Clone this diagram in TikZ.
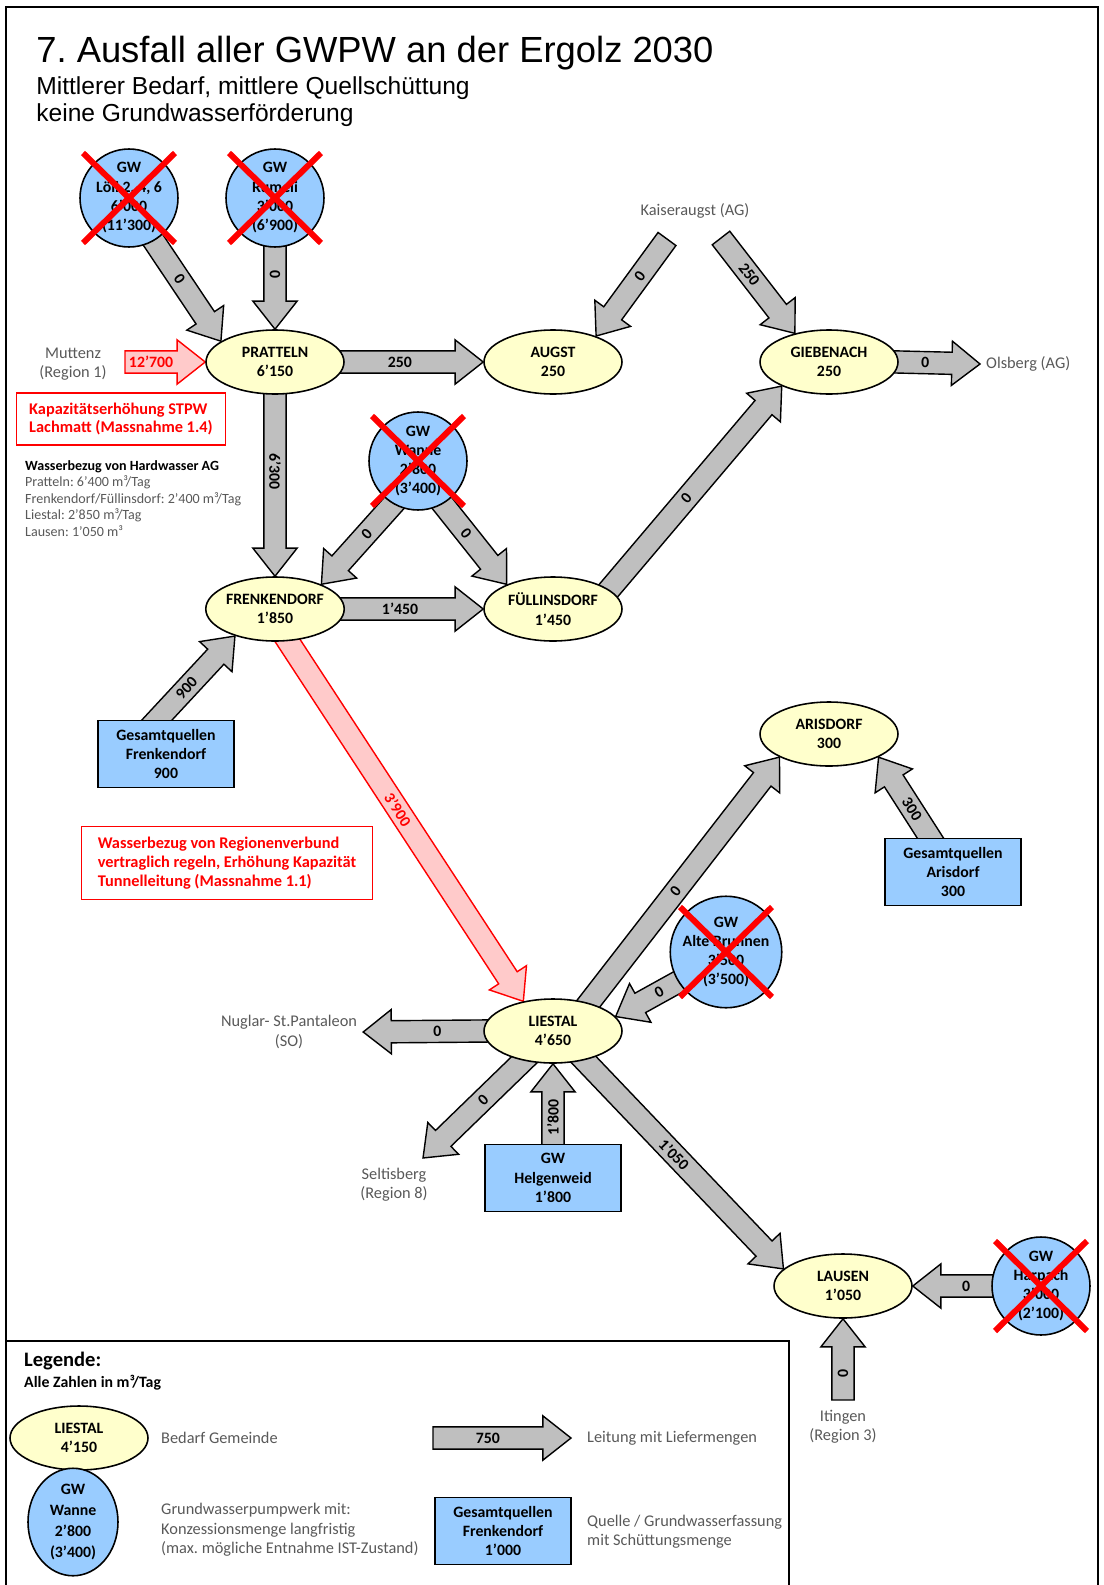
\documentclass[tikz,border=0pt]{standalone}
\usepackage{fontspec}
\setmainfont{Carlito}
\newfontfamily\titlefont{Liberation Sans}
\usetikzlibrary{shapes.geometric,calc,backgrounds}

\definecolor{gemeindefill}{HTML}{FFFFCC}
\definecolor{gwfill}{HTML}{99CCFF}
\definecolor{pipefill}{HTML}{BFBFBF}
\definecolor{redfill}{HTML}{FFCACA}
\definecolor{labelgray}{HTML}{595959}

% Masse der Leitungspfeile
\newcommand{\pipew}{6.3pt}
\newcommand{\pipehw}{12.6pt}
\newcommand{\pipehead}{16pt}

\tikzset{
  gemeinde/.style={ellipse, draw, line width=0.9pt, fill=gemeindefill,
    minimum width=2.76cm, minimum height=1.28cm, inner sep=0pt, align=center,
    font=\fontsize{9}{11}\selectfont\bfseries},
  pumpwerk/.style={circle, draw, line width=0.9pt, fill=gwfill,
    minimum size=1.96cm, inner sep=0pt, align=center,
    font=\fontsize{9}{11}\selectfont\bfseries},
  quelle/.style={rectangle, draw, line width=0.9pt, fill=gwfill,
    minimum width=2.72cm, minimum height=1.34cm, inner sep=0pt, align=center,
    font=\fontsize{9}{11}\selectfont\bfseries},
  nachbar/.style={align=center, text=labelgray, font=\fontsize{9.3}{11}\selectfont},
  massnahme/.style={draw=red, line width=1pt, text=red, align=left,
    font=\fontsize{9.3}{10.8}\selectfont\bfseries},
  pipe/.style={draw, line width=0.8pt, fill=pipefill, line join=miter},
  redpipe/.style={color=red, fill=redfill},
  pipelabel/.style={font=\fontsize{9}{11}\selectfont\bfseries, inner sep=0pt},
  xout/.style={red, line width=3.4pt},
  borderline/.style={line width=1.2pt},
  pipe back/.store in=\pipeback, pipe back=8pt,
}

% Blockpfeil von #2 nach #3 mit Menge #4
\newcommand{\pipe}[4][]{%
  \draw[pipe,#1] let \p1=#2, \p2=#3,
      \n1={atan2(\y2-\y1,\x2-\x1)}, \n2={veclen(\x2-\x1,\y2-\y1)},
      \n3={abs(\n1)>90.5 ? (\n1>0 ? \n1-180 : \n1+180) : \n1} in
    ([shift={(\p1)},rotate=\n1]-\pipeback,-\pipew)
    -- ([shift={(\p1)},rotate=\n1]\n2-\pipehead,-\pipew)
    -- ([shift={(\p1)},rotate=\n1]\n2-\pipehead,-\pipehw)
    -- ([shift={(\p1)},rotate=\n1]\n2,0pt)
    -- ([shift={(\p1)},rotate=\n1]\n2-\pipehead,\pipehw)
    -- ([shift={(\p1)},rotate=\n1]\n2-\pipehead,\pipew)
    -- ([shift={(\p1)},rotate=\n1]-\pipeback,\pipew) -- cycle
    ([shift={(\p1)},rotate=\n1]0.5*\n2-0.5*\pipehead,0pt) node[pipelabel,rotate=\n3] {#4};
}

\begin{document}
\frenchspacing
\begin{tikzpicture}[x=0.02cm, y=-0.02cm]
\useasboundingbox (0,0) rectangle (1103,1585);
% Rahmen
\draw[borderline] (6,1585) -- (6,7) -- (1098,7) -- (1098,1585);
\draw[borderline] (6,1341) -- (789,1341) -- (789,1585);
% Titel
\node[anchor=base west, inner sep=0pt, font=\titlefont\fontsize{20.7}{24}\selectfont] (title) at (36,63) {7. Ausfall aller GWPW an der Ergolz 2030};
\node[anchor=base west, inner sep=0pt, font=\titlefont\fontsize{14}{16}\selectfont] (sub1) at (36,94) {Mittlerer Bedarf, mittlere Quellschüttung};
\node[anchor=base west, inner sep=0pt, font=\titlefont\fontsize{14}{16}\selectfont] (sub2) at (36,122) {keine Grundwasserförderung};

% Grundwasserpumpwerke
\node[pumpwerk] (loeli) at (129,198) {GW\\Löli 2, 4, 6\\6’000\\(11’300)};
\node[pumpwerk] (rumeli) at (275,198) {GW\\Rumeli\\3’000\\(6’900)};
\node[pumpwerk] (wanne) at (418,461) {GW\\Wanne\\2’800\\(3’400)};
\node[pumpwerk] (alte) at (726,952) {GW\\Alte Brunnen\\3’500\\(3’500)};
\node[pumpwerk] (harpach) at (1041,1286) {GW\\Harpach\\3’000\\(2’100)};

% Gemeinden
\node[gemeinde] (pratteln) at (275,362) {PRATTELN\\6’150};
\node[gemeinde] (augst) at (553,362) {AUGST\\250};
\node[gemeinde] (giebenach) at (829,362) {GIEBENACH\\250};
\node[gemeinde] (frenkendorf) at (275,609) {FRENKENDORF\\1’850};
\node[gemeinde] (fuellinsdorf) at (553,609) {FÜLLINSDORF\\1’450};
\node[gemeinde] (arisdorf) at (829,734) {ARISDORF\\300};
\node[gemeinde] (liestal) at (553,1031) {LIESTAL\\4’650};
\node[gemeinde] (lausen) at (843,1286) {LAUSEN\\1’050};

% Quellen
\node[quelle] (gqfrenk) at (166,754) {Gesamtquellen\\Frenkendorf\\900};
\node[quelle] (gqaris) at (953,872) {Gesamtquellen\\Arisdorf\\300};
\node[quelle] (helgen) at (553,1178) {GW\\Helgenweid\\1’800};

% Nachbarregionen
\node[nachbar] (muttenz) at (73,364) {Muttenz\\(Region 1)};
\node[nachbar] (kaiseraugst) at (695,211) {Kaiseraugst (AG)};
\node[nachbar, anchor=west] (olsberg) at (980,364) {Olsberg (AG)};
\node[nachbar] (nuglar) at (289,1032) {Nuglar- St.Pantaleon\\(SO)};
\node[nachbar] (seltisberg) at (394,1185) {Seltisberg\\(Region 8)};
\node[nachbar] (itingen) at (843,1427) {Itingen\\(Region 3)};
\coordinate (muttenzout) at (125,362);
\coordinate (kaiser1) at (667,239);
\coordinate (kaiser2) at (721,238);
\coordinate (seltisin) at (423,1158);
\coordinate (itingenout) at (843,1400);

% Massnahmen
\node[massnahme, minimum width=4.18cm, minimum height=1.04cm] (lachmatt) at (121,419) {Kapazitätserhöhung STPW\\Lachmatt (Massnahme 1.4)};
\node[anchor=north west, align=left, text=labelgray, font=\fontsize{8}{9.4}\selectfont] (hardwasser) at (19,454) {\textcolor{black}{\bfseries Wasserbezug von Hardwasser AG}\\Pratteln: 6’400 m³/Tag\\Frenkendorf/Füllinsdorf: 2’400 m³/Tag\\Liestal: 2’850 m³/Tag\\Lausen: 1’050 m³};
\node[massnahme, minimum width=5.82cm, minimum height=1.46cm] (tunnel) at (227,863) {Wasserbezug von Regionenverbund\\vertraglich regeln, Erhöhung Kapazität\\Tunnelleitung (Massnahme 1.1)};

% Legende
\node[anchor=west, font=\fontsize{11.7}{14}\selectfont\bfseries] (legende) at (18,1361) {Legende:};
\node[anchor=west, font=\fontsize{9}{11}\selectfont\bfseries] (einheit) at (18,1383) {Alle Zahlen in m³/Tag};
\node[gemeinde] (leggemeinde) at (79,1438) {LIESTAL\\4’150};
\node[nachbar, anchor=west] (leggemeindetext) at (155,1438) {Bedarf Gemeinde};
\coordinate (legpipea) at (433,1438);
\coordinate (legpipeb) at (571,1438);
\node[nachbar, anchor=west] (legpipetext) at (581,1438) {Leitung mit Liefermengen};
\node[pumpwerk, ellipse, minimum width=1.8cm, minimum height=2cm, font=\fontsize{9}{12}\selectfont\bfseries] (legpumpwerk) at (73,1522) {GW\\Wanne\\2’800\\(3’400)};
\node[nachbar, anchor=west, align=left] (legpumpwerktext) at (155,1530) {Grundwasserpumpwerk mit:\\Konzessionsmenge langfristig\\(max. mögliche Entnahme IST-Zustand)};
\node[quelle] (legquelle) at (503,1531) {Gesamtquellen\\Frenkendorf\\1’000};
\node[nachbar, anchor=west, align=left] (legquelletext) at (581,1532) {Quelle / Grundwasserfassung\\mit Schüttungsmenge};

% Leitungen
\begin{pgfonlayer}{background}
\pipe{(loeli.-60)}{(pratteln.159)}{0}
\pipe{(rumeli.south)}{(pratteln.north)}{0}
\pipe[redpipe, pipe back=0pt]{(muttenzout)}{(pratteln.west)}{12’700}
\pipe{(pratteln.east)}{(augst.west)}{250}
\pipe[pipe back=0pt]{(kaiser1)}{(augst.31)}{0}
\pipe[pipe back=0pt]{(kaiser2)}{(giebenach.140)}{250}
\pipe{(giebenach.east)}{(olsberg.west)}{0}
\pipe{(pratteln.south)}{(frenkendorf.north)}{6’300}
\pipe{(wanne.-120)}{(frenkendorf.28)}{0}
\pipe{(wanne.-60)}{(fuellinsdorf.152)}{0}
\pipe{(frenkendorf.east)}{(fuellinsdorf.west)}{1’450}
\pipe{(fuellinsdorf.19)}{(giebenach.-153)}{0}
\pipe{([xshift=-5pt]gqfrenk.north)}{(frenkendorf.-146)}{900}
\pipe[redpipe]{(frenkendorf.-68)}{(liestal.135)}{3’900}
\pipe{(liestal.38)}{(arisdorf.-155)}{0}
\pipe{([xshift=-13pt]gqaris.north)}{(arisdorf.-25)}{300}
\pipe{(alte.-148)}{(liestal.13)}{0}
\pipe{(liestal.west)}{(nuglar.east)}{0}
\pipe{(liestal.-135)}{(seltisin)}{0}
\pipe{(helgen.north)}{(liestal.south)}{1’800}
\pipe{(liestal.-43)}{(lausen.164)}{1’050}
\pipe{(harpach.west)}{(lausen.east)}{0}
\pipe[pipe back=0pt]{(itingenout)}{(lausen.south)}{0}
\pipe[pipe back=0pt]{(legpipea)}{(legpipeb)}{750}
\end{pgfonlayer}

% ausgefallene Pumpwerke
\foreach \w in {loeli,rumeli,wanne,alte,harpach}
  \draw[xout] ($(\w)+(-46,-45)$) -- ($(\w)+(46,45)$) ($(\w)+(-46,45)$) -- ($(\w)+(46,-45)$);
\end{tikzpicture}
\end{document}
